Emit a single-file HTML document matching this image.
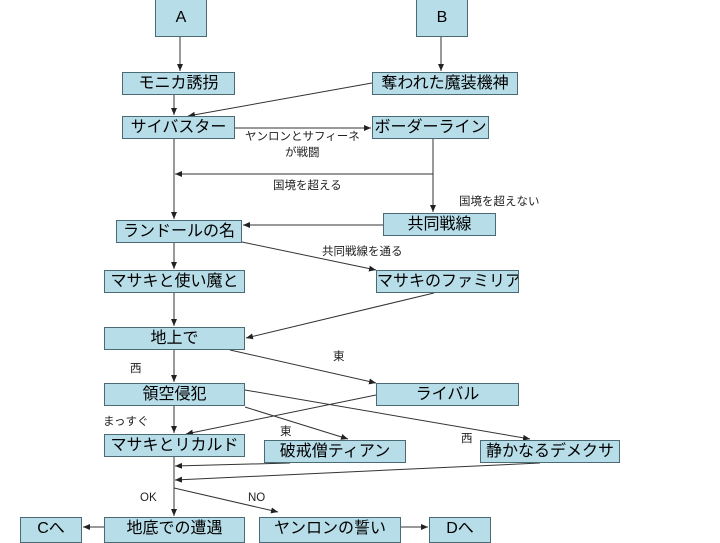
<!DOCTYPE html>
<html><head><meta charset="utf-8"><style>
body{margin:0;width:720px;height:540px;background:#fff;overflow:hidden;position:relative;font-family:"Liberation Sans","Noto Sans CJK JP",sans-serif}
.b{position:absolute;background:#b7dde8;border:1px solid #4a6a74;box-sizing:border-box;text-align:center;font-size:16px;color:#000;line-height:21px;white-space:nowrap;overflow:hidden}
.t{position:absolute;font-size:11.5px;color:#222;white-space:nowrap}
svg{position:absolute;left:0;top:0}
</style></head><body>
<svg width="720" height="540">
<defs><marker id="a" markerWidth="8" markerHeight="8" refX="7" refY="3" orient="auto" markerUnits="userSpaceOnUse"><path d="M0,0L7,3L0,6z" fill="#222"/></marker></defs>
<g stroke="#333" stroke-width="1" fill="none" marker-end="url(#a)">
<line x1="180" y1="37" x2="180" y2="71"/>
<line x1="441" y1="37" x2="441" y2="71"/>
<line x1="174" y1="94" x2="174" y2="115"/>
<line x1="372" y1="83" x2="188" y2="116"/>
<line x1="235" y1="128" x2="371" y2="128"/>
<line x1="433" y1="139" x2="433" y2="212"/>
<line x1="433" y1="174" x2="175" y2="174"/>
<line x1="174" y1="139" x2="174" y2="219"/>
<line x1="383" y1="225" x2="243" y2="225"/>
<line x1="242" y1="242" x2="376" y2="270"/>
<line x1="174" y1="243" x2="174" y2="269"/>
<line x1="174" y1="293" x2="174" y2="326"/>
<line x1="434" y1="293" x2="246" y2="338"/>
<line x1="230" y1="350" x2="376" y2="383"/>
<line x1="174" y1="350" x2="174" y2="382"/>
<line x1="174" y1="406" x2="174" y2="433"/>
<line x1="376" y1="395" x2="186" y2="434"/>
<line x1="245" y1="407" x2="348" y2="439"/>
<line x1="245" y1="390" x2="530" y2="439"/>
<line x1="174" y1="457" x2="174" y2="516"/>
<line x1="290" y1="463" x2="175" y2="466"/>
<line x1="540" y1="463" x2="175" y2="480"/>
<line x1="174" y1="488" x2="278" y2="512"/>
<line x1="104" y1="527" x2="83" y2="527"/>
<line x1="401" y1="527" x2="428" y2="527"/>
</g></svg>
<div class="b" style="left:155px;top:-1px;width:52px;height:38px;line-height:36px">A</div>
<div class="b" style="left:416px;top:-1px;width:52px;height:38px;line-height:36px">B</div>
<div class="b" style="left:122px;top:72px;width:113px;height:23px">モニカ誘拐</div>
<div class="b" style="left:372px;top:72px;width:146px;height:23px">奪われた魔装機神</div>
<div class="b" style="left:122px;top:116px;width:113px;height:23px">サイバスター</div>
<div class="b" style="left:372px;top:116px;width:117px;height:23px">ボーダーライン</div>
<div class="b" style="left:383px;top:213px;width:113px;height:23px">共同戦線</div>
<div class="b" style="left:116px;top:220px;width:126px;height:23px">ランドールの名</div>
<div class="b" style="left:104px;top:270px;width:141px;height:23px">マサキと使い魔と</div>
<div class="b" style="left:376px;top:270px;width:143px;height:23px">マサキのファミリア</div>
<div class="b" style="left:104px;top:327px;width:141px;height:23px">地上で</div>
<div class="b" style="left:104px;top:383px;width:141px;height:23px">領空侵犯</div>
<div class="b" style="left:376px;top:383px;width:143px;height:23px">ライバル</div>
<div class="b" style="left:104px;top:434px;width:141px;height:23px">マサキとリカルド</div>
<div class="b" style="left:264px;top:440px;width:142px;height:23px">破戒僧ティアン</div>
<div class="b" style="left:480px;top:440px;width:140px;height:23px">静かなるデメクサ</div>
<div class="b" style="left:104px;top:517px;width:141px;height:26px">地底での遭遇</div>
<div class="b" style="left:259px;top:517px;width:142px;height:26px">ヤンロンの誓い</div>
<div class="b" style="left:20px;top:517px;width:62px;height:26px">Cへ</div>
<div class="b" style="left:429px;top:517px;width:62px;height:26px">Dへ</div>
<div class="t" style="left:245px;top:128px">ヤンロンとサフィーネ</div>
<div class="t" style="left:285px;top:144px">が戦闘</div>
<div class="t" style="left:273px;top:177px">国境を超える</div>
<div class="t" style="left:459px;top:193px">国境を超えない</div>
<div class="t" style="left:322px;top:243px">共同戦線を通る</div>
<div class="t" style="left:333px;top:348px">東</div>
<div class="t" style="left:130px;top:360px">西</div>
<div class="t" style="left:103px;top:413px">まっすぐ</div>
<div class="t" style="left:280px;top:423px">東</div>
<div class="t" style="left:461px;top:430px">西</div>
<div class="t" style="left:140px;top:492px">OK</div>
<div class="t" style="left:248px;top:492px">NO</div>
</body></html>
